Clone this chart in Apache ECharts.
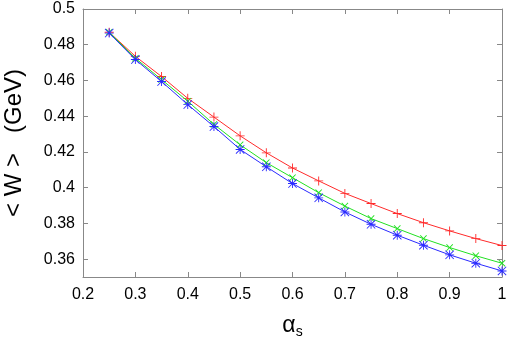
<!DOCTYPE html>
<html>
<head>
<meta charset="utf-8">
<style>
  html, body { margin: 0; padding: 0; background: #fff; }
  #chart { width: 510px; height: 340px; }
</style>
<script src="https://cdn.jsdelivr.net/npm/echarts@6/dist/echarts.min.js"></script>
</head>
<body>
<div id="chart"></div>
<script>
// alpha_s values
var alphaS = [0.25, 0.3, 0.35, 0.4, 0.45, 0.5, 0.55, 0.6, 0.65, 0.7, 0.75, 0.8, 0.85, 0.9, 0.95, 1.0];

// <W> in GeV
var wRed   = [0.487, 0.4735, 0.4622, 0.4500, 0.4395, 0.4290, 0.4195, 0.4110, 0.4038, 0.3968, 0.3911, 0.3855, 0.3804, 0.3758, 0.3715, 0.3676];
var wGreen = [0.487, 0.4724, 0.4605, 0.4484, 0.4354, 0.4240, 0.4140, 0.4056, 0.3972, 0.3897, 0.3827, 0.3771, 0.3715, 0.3665, 0.3619, 0.3577];
var wBlue  = [0.4865, 0.4717, 0.4594, 0.4465, 0.4342, 0.4214, 0.4117, 0.4023, 0.3943, 0.3864, 0.3795, 0.3734, 0.3678, 0.3624, 0.3577, 0.3534];

var yTicks = [0.36, 0.38, 0.4, 0.42, 0.44, 0.46, 0.48, 0.5];

// gnuplot-like point shapes
var plusPath = 'path://M9,0L11,0L11,9L20,9L20,11L11,11L11,20L9,20L9,11L0,11L0,9L9,9Z';
var starPath = 'path://M9,0L11,0L11,9L20,9L20,11L11,11L11,20L9,20L9,11L0,11L0,9L9,9Z' +
               'M0,1.4L1.4,0L20,18.6L18.6,20Z M18.6,0L20,1.4L1.4,20L0,18.6Z';

function pairs(ys) {
    return alphaS.map(function (x, i) { return [x, ys[i]]; });
}

var myChart = echarts.init(document.getElementById('chart'));

var frame = '#888888';
var font = 'Liberation Sans';

function lineSeries(ys, color, symbol, rotate) {
    return {
        type: 'line',
        data: pairs(ys),
        symbol: symbol,
        symbolSize: 9,
        symbolRotate: rotate,
        showAllSymbol: true,
        lineStyle: { color: color, width: 1 },
        itemStyle: { color: color },
        emphasis: { disabled: true },
        z: 3
    };
}

var option = {
    animation: false,
    grid: { left: 83, right: 8, top: 9, bottom: 63, outerBoundsMode: 'none' },
    xAxis: [{
        type: 'value',
        min: 0.2,
        max: 1,
        interval: 0.1,
        name: '{a|α}{s|s}',
        nameLocation: 'middle',
        nameGap: 36,
        nameTextStyle: {
            rich: {
                a: { fontFamily: font, fontSize: 23, color: '#000' },
                s: { fontFamily: font, fontSize: 14, color: '#000', verticalAlign: 'bottom', padding: [12, 0, 0, 0] }
            }
        },
        axisLine: { lineStyle: { color: frame } },
        axisTick: { inside: true, length: 5, lineStyle: { color: frame } },
        axisLabel: {
            margin: 10, fontFamily: font, fontSize: 16, color: '#000',
            formatter: function (v) { return String(Math.round(v * 10) / 10); }
        },
        splitLine: { show: false }
    }, {
        type: 'value',
        position: 'top',
        min: 0.2,
        max: 1,
        interval: 0.1,
        axisLine: { lineStyle: { color: frame } },
        axisTick: { inside: true, length: 5, lineStyle: { color: frame } },
        axisLabel: { show: false },
        splitLine: { show: false }
    }],
    yAxis: [{
        type: 'value',
        min: 0.35,
        max: 0.5,
        name: '< W >   (GeV)',
        nameLocation: 'middle',
        nameGap: 57,
        nameTextStyle: { fontFamily: font, fontSize: 24, color: '#000' },
        axisLine: { show: true, lineStyle: { color: frame } },
        axisTick: { inside: true, length: 5, customValues: yTicks, lineStyle: { color: frame } },
        axisLabel: {
            margin: 8, fontFamily: font, fontSize: 16, color: '#000',
            customValues: yTicks,
            formatter: function (v) { return String(Math.round(v * 100) / 100); }
        },
        splitLine: { show: false }
    }, {
        type: 'value',
        position: 'right',
        min: 0.35,
        max: 0.5,
        axisLine: { show: true, lineStyle: { color: frame } },
        axisTick: { inside: true, length: 5, customValues: yTicks, lineStyle: { color: frame } },
        axisLabel: { show: false },
        splitLine: { show: false }
    }],
    series: [
        lineSeries(wRed, '#ff2a2a', plusPath, 0),
        lineSeries(wGreen, '#22e022', plusPath, 45),
        lineSeries(wBlue, '#2a2aff', starPath, 0)
    ]
};

myChart.setOption(option);

window.addEventListener('resize', function () {
    myChart.resize();
});
</script>
</body>
</html>
